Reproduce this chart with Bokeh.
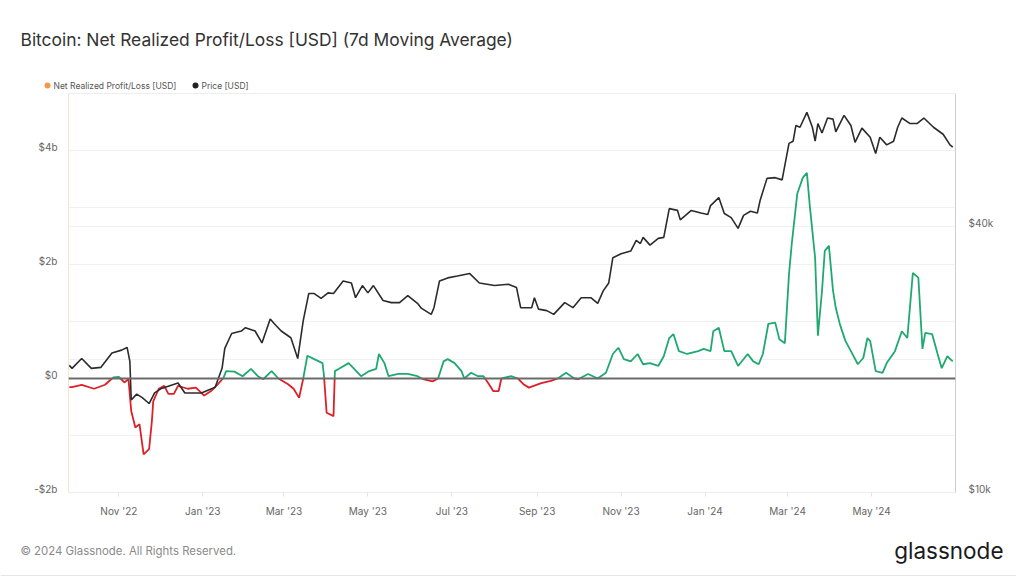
from datetime import datetime
import numpy as np
from bokeh.plotting import figure
from bokeh.layouts import column
from bokeh.core.properties import value
from bokeh.models import (Range1d, LogAxis, LogScale, FixedTicker, Grid,
                          ColumnDataSource, Span, DatetimeTickFormatter)
from bokeh.embed import file_html
from bokeh.resources import INLINE

# ---------------- data ----------------
price_dates = [
    "2022-09-26", "2022-09-28", "2022-10-05", "2022-10-12", "2022-10-19", "2022-10-27",
    "2022-11-03", "2022-11-07", "2022-11-09", "2022-11-10", "2022-11-14", "2022-11-18",
    "2022-11-23", "2022-11-27", "2022-12-02", "2022-12-14", "2022-12-19", "2022-12-31",
    "2023-01-10", "2023-01-15", "2023-01-17", "2023-01-22", "2023-01-29", "2023-02-01",
    "2023-02-08", "2023-02-13", "2023-02-19", "2023-02-22", "2023-02-27", "2023-03-06",
    "2023-03-11", "2023-03-15", "2023-03-19", "2023-03-23", "2023-03-28", "2023-04-02",
    "2023-04-06", "2023-04-13", "2023-04-19", "2023-04-22", "2023-04-27", "2023-05-01",
    "2023-05-05", "2023-05-12", "2023-05-18", "2023-05-24", "2023-05-30", "2023-06-06",
    "2023-06-09", "2023-06-16", "2023-06-18", "2023-06-22", "2023-06-28", "2023-07-05",
    "2023-07-14", "2023-07-21", "2023-08-01", "2023-08-11", "2023-08-17", "2023-08-20",
    "2023-08-28", "2023-08-30", "2023-09-02", "2023-09-08", "2023-09-13", "2023-09-21",
    "2023-09-27", "2023-10-03", "2023-10-10", "2023-10-15", "2023-10-19", "2023-10-23",
    "2023-10-26", "2023-11-01", "2023-11-08", "2023-11-12", "2023-11-15", "2023-11-17",
    "2023-11-22", "2023-11-28", "2023-12-02", "2023-12-06", "2023-12-12", "2023-12-14",
    "2023-12-22", "2023-12-29", "2024-01-03", "2024-01-05", "2024-01-11", "2024-01-15",
    "2024-01-20", "2024-01-25", "2024-01-29", "2024-02-03", "2024-02-08", "2024-02-10",
    "2024-02-15", "2024-02-21", "2024-02-26", "2024-03-02", "2024-03-05", "2024-03-07",
    "2024-03-10", "2024-03-15", "2024-03-19", "2024-03-21", "2024-03-23", "2024-03-26",
    "2024-03-30", "2024-04-03", "2024-04-05", "2024-04-11", "2024-04-16", "2024-04-19",
    "2024-04-24", "2024-04-30", "2024-05-04", "2024-05-07", "2024-05-12", "2024-05-17",
    "2024-05-20", "2024-05-23", "2024-05-29", "2024-06-03", "2024-06-08", "2024-06-15",
    "2024-06-22", "2024-06-27", "2024-06-29",
]
price_usd = [
    19400, 19100, 20100, 19100, 19200, 20700,
    21000, 21300, 19800, 16200, 16700, 16400,
    15900, 16800, 17200, 17700, 16800, 16800,
    17300, 19100, 21200, 22900, 23200, 23600,
    23200, 21800, 24700, 24100, 23200, 22400,
    20100, 24500, 28200, 28200, 27500, 28300,
    28200, 30100, 29800, 27600, 29400, 28300,
    29400, 27200, 26900, 26900, 27900, 26800,
    26100, 25300, 26200, 30100, 30600, 30900,
    31300, 29800, 29400, 29600, 29100, 26200,
    26200, 27600, 26000, 25800, 25300, 26900,
    26200, 27600, 27600, 26800, 28600, 29800,
    34000, 34700, 35200, 37200, 36600, 37800,
    36300, 37600, 37800, 43900, 43500, 41400,
    43500, 42900, 42600, 44600, 46500, 42800,
    41900, 39600, 42400, 43300, 42900, 45800,
    51400, 51600, 51000, 61700, 62400, 67700,
    67100, 72500, 67100, 62400, 68400, 65100,
    70400, 70000, 65500, 71400, 67700, 62000,
    66800, 63700, 58500, 63700, 61200, 62400,
    67100, 70400, 68400, 68400, 70400, 67100,
    64700, 61200, 60500,
]

nrpl_dates = [
    "2022-09-26", "2022-09-28", "2022-10-05", "2022-10-14", "2022-10-22", "2022-10-28",
    "2022-11-01", "2022-11-05", "2022-11-08", "2022-11-10", "2022-11-13", "2022-11-16",
    "2022-11-19", "2022-11-23", "2022-11-25", "2022-11-26", "2022-11-30", "2022-12-04",
    "2022-12-07", "2022-12-11", "2022-12-14", "2022-12-21", "2022-12-27", "2023-01-02",
    "2023-01-07", "2023-01-12", "2023-01-16", "2023-01-18", "2023-01-24", "2023-01-30",
    "2023-02-05", "2023-02-10", "2023-02-14", "2023-02-20", "2023-02-25", "2023-03-04",
    "2023-03-08", "2023-03-12", "2023-03-15", "2023-03-18", "2023-03-23", "2023-03-29",
    "2023-03-30", "2023-04-01", "2023-04-06", "2023-04-07", "2023-04-10", "2023-04-17",
    "2023-04-21", "2023-04-26", "2023-05-02", "2023-05-07", "2023-05-09", "2023-05-13",
    "2023-05-16", "2023-05-23", "2023-05-30", "2023-06-06", "2023-06-10", "2023-06-17",
    "2023-06-21", "2023-06-25", "2023-06-28", "2023-07-03", "2023-07-08", "2023-07-10",
    "2023-07-15", "2023-07-20", "2023-07-24", "2023-07-28", "2023-07-31", "2023-08-04",
    "2023-08-06", "2023-08-13", "2023-08-18", "2023-08-22", "2023-08-26", "2023-09-04",
    "2023-09-11", "2023-09-16", "2023-09-22", "2023-09-28", "2023-10-01", "2023-10-08",
    "2023-10-15", "2023-10-21", "2023-10-26", "2023-10-30", "2023-11-03", "2023-11-08",
    "2023-11-13", "2023-11-17", "2023-11-22", "2023-11-28", "2023-12-02", "2023-12-06",
    "2023-12-09", "2023-12-13", "2023-12-19", "2023-12-27", "2023-12-31", "2024-01-05",
    "2024-01-07", "2024-01-11", "2024-01-15", "2024-01-20", "2024-01-25", "2024-02-01",
    "2024-02-05", "2024-02-09", "2024-02-12", "2024-02-16", "2024-02-21", "2024-02-24",
    "2024-02-28", "2024-03-02", "2024-03-04", "2024-03-08", "2024-03-12", "2024-03-15",
    "2024-03-17", "2024-03-21", "2024-03-23", "2024-03-26", "2024-03-28", "2024-03-31",
    "2024-04-03", "2024-04-05", "2024-04-08", "2024-04-12", "2024-04-16", "2024-04-21",
    "2024-04-25", "2024-04-28", "2024-04-30", "2024-05-04", "2024-05-09", "2024-05-12",
    "2024-05-18", "2024-05-23", "2024-05-27", "2024-05-31", "2024-06-04", "2024-06-07",
    "2024-06-09", "2024-06-14", "2024-06-18", "2024-06-21", "2024-06-25", "2024-06-29",
]
nrpl_usd_b = [
    -0.15, -0.15, -0.11, -0.18, -0.11, 0.02,
    0.03, -0.07, -0.01, -0.57, -0.86, -0.80,
    -1.33, -1.24, -0.75, -0.40, -0.18, -0.13,
    -0.27, -0.27, -0.13, -0.18, -0.16, -0.30,
    -0.22, -0.10, 0.01, 0.13, 0.12, 0.04,
    0.17, 0.04, -0.01, 0.13, 0.0, -0.10,
    -0.18, -0.34, 0.0, 0.40, 0.34, 0.27,
    0.07, -0.60, -0.66, 0.13, 0.17, 0.27,
    0.17, 0.04, 0.13, 0.17, 0.43, 0.27,
    0.04, 0.08, 0.08, 0.04, -0.01, -0.05,
    0.0, 0.30, 0.34, 0.27, 0.13, 0.0,
    0.10, 0.04, 0.04, -0.10, -0.22, -0.22,
    0.0, 0.04, 0.0, -0.10, -0.16, -0.08,
    -0.04, 0.0, 0.10, 0.0, -0.01, 0.08,
    0.0, 0.10, 0.43, 0.54, 0.34, 0.30,
    0.43, 0.25, 0.27, 0.22, 0.39, 0.71,
    0.78, 0.48, 0.43, 0.48, 0.52, 0.48,
    0.83, 0.89, 0.48, 0.48, 0.22, 0.43,
    0.30, 0.25, 0.43, 0.96, 0.98, 0.69,
    0.62, 1.83, 2.36, 3.24, 3.52, 3.61,
    3.06, 2.11, 0.75, 1.54, 2.24, 2.33,
    1.54, 1.24, 0.95, 0.66, 0.48, 0.25,
    0.36, 0.71, 0.66, 0.13, 0.10, 0.27,
    0.48, 0.83, 0.71, 1.85, 1.77, 0.52,
    0.80, 0.78, 0.43, 0.18, 0.39, 0.30,
]

x_tick_dates = ["2022-11-01", "2023-01-01", "2023-03-01", "2023-05-01", "2023-07-01",
                "2023-09-01", "2023-11-01", "2024-01-01", "2024-03-01", "2024-05-01"]
x_tick_labels = ["Nov '22", "Jan '23", "Mar '23", "May '23", "Jul '23",
                 "Sep '23", "Nov '23", "Jan '24", "Mar '24", "May '24"]
left_ticks = [-2, 0, 2, 4]
left_tick_labels = ["-$2b", "$0", "$2b", "$4b"]
right_ticks = [10000, 40000]
right_tick_labels = ["$10k", "$40k"]

title_text = "Bitcoin: Net Realized Profit/Loss [USD] (7d Moving Average)"
legend_labels = ["Net Realized Profit/Loss [USD]", "Price [USD]"]
legend_colors = ["#f2994a", "#222222"]
footer_text = "\u00A9 2024 Glassnode. All Rights Reserved."
brand_text = "glassnode"

# ---------------- helpers ----------------
EPOCH = datetime(1970, 1, 1)


def to_ms(s):
    return (datetime.strptime(s, "%Y-%m-%d") - EPOCH).total_seconds() * 1000.0


FONT = "Inter"
GREEN = "#1fa971"
RED = "#dd2027"
W = 1016


def blank(height):
    f = figure(width=W, height=height, output_backend="svg", toolbar_location=None,
               x_range=Range1d(0, W), y_range=Range1d(height, 0), min_border=0,
               outline_line_color=None, background_fill_color="white",
               border_fill_color="white")
    f.frame_align = False
    f.axis.visible = False
    f.grid.grid_line_color = None
    return f


# split the net realized P/L into green (>=0) and red (<0) runs
t = np.array([to_ms(d) for d in nrpl_dates])
v = np.array(nrpl_usd_b, dtype=float)
pos_xs, pos_ys, neg_xs, neg_ys = [], [], [], []
cur_x, cur_y = [t[0]], [v[0]]
cur_pos = v[0] >= 0
for i in range(1, len(t)):
    s = v[i] >= 0
    if s != cur_pos:
        tc = t[i - 1] + (t[i] - t[i - 1]) * (0 - v[i - 1]) / (v[i] - v[i - 1])
        cur_x.append(tc)
        cur_y.append(0.0)
        if cur_pos:
            pos_xs.append(cur_x); pos_ys.append(cur_y)
        else:
            neg_xs.append(cur_x); neg_ys.append(cur_y)
        cur_x, cur_y = [tc], [0.0]
        cur_pos = s
    cur_x.append(t[i]); cur_y.append(v[i])
if cur_pos:
    pos_xs.append(cur_x); pos_ys.append(cur_y)
else:
    neg_xs.append(cur_x); neg_ys.append(cur_y)

# ---------------- header ----------------
head = blank(93)
head.text(x=[20], y=[39], text=[title_text], text_font=value(FONT),
          text_font_size="17.4px", text_color="#333333", text_baseline="middle")
head.scatter(x=[47, 195], y=[85, 85], size=6, color=legend_colors, line_color=None)
head.text(x=[53, 201], y=[85, 85], text=legend_labels, text_font=value(FONT),
          text_font_size="8.5px", text_color="#555555", text_baseline="middle")

# ---------------- main plot ----------------
x_start = (datetime(2022, 9, 25, 10) - EPOCH).total_seconds() * 1000.0
x_end = (datetime(2024, 7, 1) - EPOCH).total_seconds() * 1000.0

p = figure(width=W, height=437, output_backend="svg", toolbar_location=None,
           x_axis_type="datetime", x_range=Range1d(x_start, x_end),
           y_range=Range1d(-2, 5), min_border_left=68, min_border_right=61,
           min_border_top=0, min_border_bottom=38, background_fill_color="white",
           border_fill_color="white")
p.frame_align = False
p.outline_line_color = "#eeeeee"
p.extra_y_ranges = {"price": Range1d(10000, 80000)}
p.extra_y_scales = {"price": LogScale()}

p.xgrid.grid_line_color = None
p.ygrid.ticker = FixedTicker(ticks=[-1, 1, 2, 3, 4])
p.ygrid.grid_line_color = "#f1f1f1"

# labels sit ~4px above their grid lines in the reference
left_label_pos = [k + 0.07 for k in left_ticks]
ya = p.yaxis[0]
ya.ticker = FixedTicker(ticks=left_label_pos)
ya.major_label_overrides = {k: lab for k, lab in zip(left_label_pos, left_tick_labels)}
ya.major_tick_line_color = None
ya.minor_tick_line_color = None
ya.major_tick_out = 0
ya.major_tick_in = 0
ya.major_label_standoff = 11
ya.axis_line_color = "#f1e6cf"
ya.major_label_text_font = FONT
ya.major_label_text_font_size = "10px"
ya.major_label_text_color = "#666666"

right_label_pos = [k * 1.021 for k in right_ticks]
ra = LogAxis(y_range_name="price", ticker=FixedTicker(ticks=right_label_pos))
ra.major_label_overrides = {k: lab for k, lab in zip(right_label_pos, right_tick_labels)}
ra.major_tick_line_color = None
ra.minor_tick_line_color = None
ra.major_tick_out = 0
ra.major_tick_in = 0
ra.major_label_standoff = 13
ra.axis_line_color = "#cfcfcf"
ra.major_label_text_font = FONT
ra.major_label_text_font_size = "10px"
ra.major_label_text_color = "#666666"
p.add_layout(ra, "right")
p.add_layout(Grid(dimension=1, ticker=FixedTicker(ticks=[20000, 40000]),
                  y_range_name="price", grid_line_color="#f1f1f1"))

xa = p.xaxis[0]
tick_ms = [to_ms(d) for d in x_tick_dates]
xa.ticker = FixedTicker(ticks=tick_ms)
xa.formatter = DatetimeTickFormatter(months="%b '%y", days="%b '%y", hours="%b '%y")
xa.major_label_overrides = {k: lab for k, lab in zip(tick_ms, x_tick_labels)}
xa.axis_line_color = "#eeeeee"
xa.major_tick_line_color = "#e4e4e4"
xa.major_tick_out = 4
xa.major_tick_in = 0
xa.minor_tick_line_color = None
xa.major_label_standoff = 8
xa.major_label_text_font = FONT
xa.major_label_text_font_size = "10px"
xa.major_label_text_color = "#666666"

p.multi_line(xs=neg_xs, ys=neg_ys, line_color=RED, line_width=1.8)
p.multi_line(xs=pos_xs, ys=pos_ys, line_color=GREEN, line_width=1.8)
p.add_layout(Span(location=0, dimension="width", line_color="#6b6b6b", line_width=2))
price_src = ColumnDataSource(dict(x=[to_ms(d) for d in price_dates], y=price_usd))
p.line("x", "y", source=price_src, y_range_name="price", line_color="#2b2b2b",
       line_width=1.6)

# ---------------- footer ----------------
foot = blank(46)
foot.text(x=[20], y=[20], text=[footer_text], text_font=value(FONT),
          text_font_size="11.4px", text_color="#8a8a8a", text_baseline="middle")
foot.text(x=[1003], y=[20], text=[brand_text], text_font=value(FONT),
          text_font_size="22.5px", text_color="#1a1a1a", text_baseline="middle",
          text_align="right")
foot.segment(x0=[0], y0=[45], x1=[W], y1=[45], line_color="#e6e6e6", line_width=1)

layout = column(head, p, foot, spacing=0)
open("out.html", "w").write(file_html(layout, INLINE))
